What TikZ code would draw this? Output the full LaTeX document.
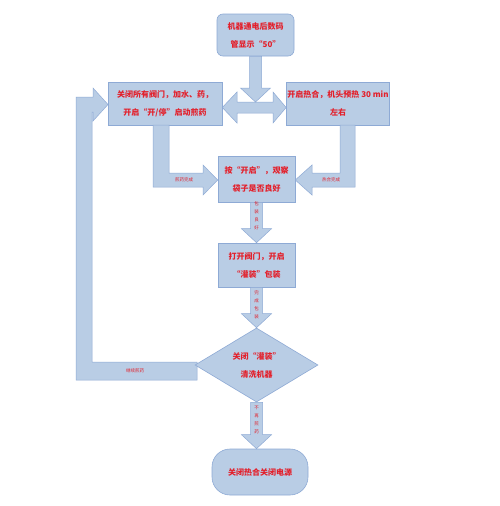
\documentclass[tikz,border=0pt]{standalone}
\usepackage{fontspec}
\newfontfamily\cjk{Noto Sans CJK SC}
\usetikzlibrary{shapes.geometric,calc}
\definecolor{boxblue}{HTML}{B9CDE5}
\definecolor{lineblue}{HTML}{8EAAD5}
\definecolor{textred}{HTML}{E3202B}
\tikzset{
  stepbox/.style={draw=lineblue, fill=boxblue, line width=0.6pt, inner sep=1pt,
    text=textred, align=center, font=\cjk\bfseries\fontsize{8}{18}\selectfont},
  blockarrow/.style={draw=lineblue, fill=boxblue, line width=0.5pt},
  tag/.style={text=textred, font=\cjk\fontsize{4.5}{8}\selectfont, align=center, inner sep=0pt},
}
% down block arrow: from #1 to #2
\newcommand{\downblock}[2]{%
  \draw[blockarrow] let \p1=#1, \p2=#2 in
    (\x1-6pt,\y1) -- (\x1+6pt,\y1) -- (\x1+6pt,\y2+14pt) -- (\x1+15pt,\y2+14pt)
    -- (\x1,\y2) -- (\x1-15pt,\y2+14pt) -- (\x1-6pt,\y2+14pt) -- cycle;}
\begin{document}
\begin{tikzpicture}[x=1pt,y=-1pt]
  \useasboundingbox[fill=white] (0,0) rectangle (500,506);

  % boxes
  \node[stepbox, rounded corners=6pt, minimum width=77pt, minimum height=42pt] (start) at (255.5,35)
    {机器通电后数码\\管显示“50”};
  \node[stepbox, minimum width=114pt, minimum height=43pt] (valve) at (165,103.5)
    {关闭所有阀门，加水、药，\\开启“开/停”启动煎药};
  \node[stepbox, minimum width=100pt, minimum height=43pt] (heat) at (338,103.5)
    {开启热合，机头预热 30 min\\左右};
  \node[stepbox, minimum width=77pt, minimum height=46pt] (check) at (256.5,179)
    {按“开启”，观察\\袋子是否良好};
  \node[stepbox, minimum width=77pt, minimum height=44pt] (fill) at (256.5,265)
    {打开阀门，开启\\“灌装”包装};
  \coordinate (hub) at (255.5,102);

  % loop back from the decision
  \draw[blockarrow] (76,97) -- (93,97) -- (93,88) -- (108,104.5) -- (93,121) -- (93,112)
    -- (92,112) -- (92,362) -- (197,362) -- (197,380) -- (76,380) -- cycle;
  \node[tag] (goon) at (135,371) {继续煎药};

  % double arrow between the top boxes
  \draw[blockarrow] (valve.east |- 0,107.5) -- (237,92) -- (237,102) -- (273,102)
    -- (273,92) -- (heat.west |- 0,107.5) -- (273,123) -- (273,113) -- (237,113) -- (237,123) -- cycle;

  % elbows into the check box
  \draw[blockarrow] (153,125) -- (169,125) -- (169,173) -- (203,173) -- (203,165)
    -- (check.west |- 0,180) -- (203,195) -- (203,187) -- (153,187) -- cycle;
  \node[tag] (boiled) at (184,180) {煎药完成};
  \draw[blockarrow] (340,125) -- (355,125) -- (355,187) -- (312,187) -- (312,195)
    -- (check.east |- 0,180) -- (312,165) -- (312,173) -- (340,173) -- cycle;
  \node[tag] (sealed) at (331,180) {热合完成};

  \node[stepbox, shape=diamond, minimum width=123pt, minimum height=74pt, inner sep=0pt] (rinse) at (256.5,365)
    {关闭“灌装”\\清洗机器};
  \node[stepbox, rounded corners=18pt, minimum width=96pt, minimum height=46pt] (stop) at (260,472)
    {关闭热合关闭电源};

  % straight arrows down
  \downblock{(start.south)}{(hub)}
  \downblock{(check.south)}{(fill.north)}
  \downblock{(fill.south)}{(rinse.north)}
  \downblock{(rinse.south)}{(rinse.south |- stop.north)}
  \node[tag] (bagok) at (256.5,216) {包\\装\\良\\好};
  \node[tag] (packed) at (256.5,305) {完\\成\\包\\装};
  \node[tag] (nomore) at (256.5,420) {不\\再\\煎\\药};
\end{tikzpicture}
\end{document}
